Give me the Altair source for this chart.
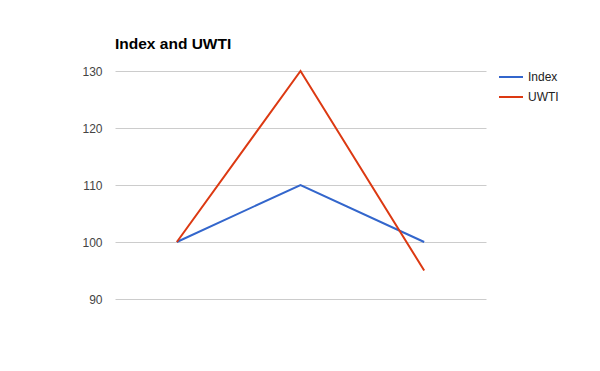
import altair as alt
import pandas as pd

periods = ["1", "2", "3"]
index_vals = [100, 110, 100]
uwti_vals = [100, 130, 95]
series_names = ["Index", "UWTI"]
series_colors = ["#3366cc", "#dc3912"]

rows = []
for p, v in zip(periods, index_vals):
    rows.append({"period": p, "series": "Index", "value": v})
for p, v in zip(periods, uwti_vals):
    rows.append({"period": p, "series": "UWTI", "value": v})
df = pd.DataFrame(rows)

chart = alt.Chart(df).mark_line(strokeWidth=2).encode(
    x=alt.X("period:O", axis=None, sort=periods,
            scale=alt.Scale(type="point", padding=0.5)),
    y=alt.Y("value:Q",
            scale=alt.Scale(domain=[90, 130], nice=False, zero=False),
            axis=alt.Axis(values=[90, 100, 110, 120, 130], title=None,
                          domain=False, ticks=False, labelPadding=13,
                          labelFont="Liberation Sans", labelFontSize=12,
                          labelColor="#444444", gridColor="#cccccc",
                          gridWidth=1)),
    color=alt.Color("series:N",
                    scale=alt.Scale(domain=series_names, range=series_colors),
                    legend=alt.Legend(title=None, orient="none",
                                      legendX=389, legendY=-1,
                                      symbolType="M-2,0H2", symbolSize=144,
                                      symbolStrokeWidth=2,
                                      labelFont="Liberation Sans",
                                      labelFontSize=12, labelColor="#222222",
                                      labelOffset=10, rowPadding=7)),
).properties(
    width=371,
    height=228,
    title=alt.TitleParams("Index and UWTI", anchor="start", frame="group",
                          font="Liberation Sans", fontSize=15.5,
                          fontWeight="bold", color="#000000", offset=13),
    autosize=alt.AutoSizeParams(type="none"),
    padding={"left": 115, "top": 71, "right": 114, "bottom": 72},
).configure_view(stroke=None)

chart.save("out.html", embed_options={"renderer": "svg", "actions": False})
